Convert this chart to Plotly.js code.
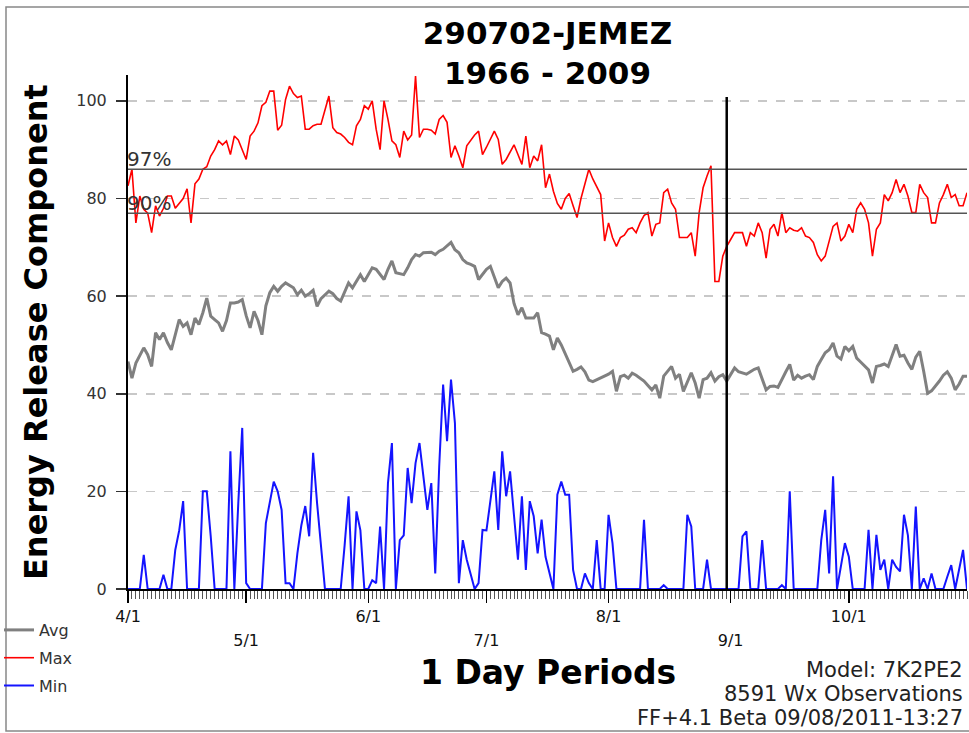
<!DOCTYPE html>
<html><head><meta charset="utf-8">
<script src="https://cdn.plot.ly/plotly-3.0.1.min.js"></script>
<style>html,body{margin:0;padding:0;background:#fff}</style>
</head><body><div id="chart" style="width:969px;height:733px"></div>
<script>
// Day offsets from 4/1 (x positions)
const days = Array.from({length: 214}, (_, i) => i);

const maxErc = [
82.6, 86, 75, 80.5, 77.8, 77, 73, 78.5, 76.4, 78,
80.5, 80.5, 78, 79, 80, 82, 75, 83, 84, 86,
86.5, 88.7, 90, 91.8, 91, 91.8, 89, 92.8, 92, 90,
88, 92.8, 93.8, 95.5, 99, 99.7, 102, 102, 94, 95,
100.3, 103, 101.5, 100.7, 101, 94.2, 94.2, 94.9, 95.2, 95.2,
98, 101, 94.5, 93.5, 93.2, 92.5, 91.5, 91, 94.9, 96.2,
99, 98.3, 100, 94.2, 90, 100, 96.2, 91.8, 91, 88.4,
93.8, 92, 93, 105.1, 92.5, 94.2, 94.2, 94, 93.2, 96.2,
97, 95.6, 88.4, 90.8, 88.7, 86.3, 90.8, 92, 93, 93.8,
89, 90.5, 92, 93.8, 92.1, 87, 88, 89.5, 91, 89,
87, 92.8, 86.3, 88.7, 87.7, 91, 82.2, 85, 81.5, 79,
77.8, 80, 81, 78.5, 76.1, 80, 83, 86, 84, 82.5,
80.8, 71.3, 75, 72, 70.2, 72, 72.5, 73.7, 74, 73,
75, 76.5, 77.1, 72.3, 74.7, 75, 81.2, 81.9, 79.1, 77.8,
72, 72, 72, 73, 68.2, 77.1, 82.2, 84.6, 86.7, 63,
63, 68.2, 70.2, 71.6, 73, 73, 73, 70.2, 73, 72.3,
75, 73, 67.8, 73.7, 74.7, 72.3, 77.1, 73, 74, 73.5,
73.3, 74, 72.3, 72, 71, 68.5, 67.2, 68.2, 71, 74.3,
75, 71.3, 72.3, 74.7, 73, 77.8, 79.1, 77.8, 75, 68.2,
73.7, 75, 80.8, 79.5, 81.2, 83.9, 81.2, 82.9, 80.5, 77.1,
77.1, 82.9, 81.2, 80.2, 75, 75, 79.1, 80.8, 82.9, 80.2,
80.8, 78.5, 78.5, 81.2
];

const avgErc = [
46.6, 43.2, 46.3, 47.7, 49.4, 48, 45.6, 52.5, 51.1, 52.5,
50.5, 49, 52, 55.2, 53.8, 54.5, 52.1, 55.5, 54.2, 56.6,
59.6, 55.9, 55.2, 54.5, 52.8, 55, 58.6, 58.6, 58.8, 59.3,
56, 53.5, 56.9, 55, 52.1, 58, 60.7, 62, 61, 62,
62.7, 62.2, 61.7, 60.3, 61.2, 60, 60.5, 61.2, 57.9, 59.5,
60.3, 61, 60.5, 59.5, 59, 61, 62.7, 61.7, 63, 64.4,
63, 64.5, 65.8, 65.5, 64.5, 63.4, 65.5, 67.2, 64.8, 64.6,
64.4, 65.8, 67.5, 68.5, 68.2, 68.9, 69, 69, 68.5, 69.2,
69.6, 70.3, 71, 69.5, 68.9, 67.5, 66.8, 66.5, 66.1, 63.4,
64.5, 65.5, 66.1, 63.8, 61.7, 63, 63.7, 62.7, 58.5, 56.2,
57.6, 55.5, 55.5, 55.5, 56.6, 52.5, 52.2, 51.8, 49, 51.4,
50, 48.3, 46.5, 44.6, 45, 45.5, 44.5, 42.8, 42.5, 42.9,
43.2, 43.6, 44, 44.6, 40.5, 43.5, 43.8, 43.2, 44.2, 43.8,
43.2, 42.6, 41.7, 40.8, 41.8, 39.1, 43.6, 44.5, 45.6, 43.2,
44, 40.5, 42.5, 44.3, 42.2, 39.1, 42.9, 43.2, 44.3, 42.6,
43.5, 43.9, 42.6, 44, 45.3, 44.5, 44.2, 44, 44.5, 45,
45.3, 43, 40.8, 41.5, 41.6, 41.3, 43, 44.5, 46, 42.8,
43.8, 43.2, 43.6, 43.9, 42.9, 45.6, 47, 48.4, 49, 50.4,
47.7, 47.1, 49.7, 48.8, 49.7, 47.3, 46.5, 45.8, 44.9, 42.2,
45.6, 45.8, 46.1, 45.6, 47.7, 50.1, 47.7, 47.9, 46.3, 45,
47.5, 48.7, 44.6, 40.1, 40.6, 41.5, 42.6, 43.8, 44.5, 43.2,
40.8, 42, 43.6, 43.6
];

const minErc = [
0, 0, 0, 0, 7, 0, 0, 0, 0, 2.9,
0, 0, 8, 12, 18, 0, 0, 0, 0, 20,
20, 10.8, 0, 0, 0, 0, 28.2, 0, 17.6, 33,
1.2, 0, 0, 0, 0, 13.5, 18, 22, 20, 16.2,
1.2, 1.2, 0, 7.3, 13, 17, 10.8, 27.9, 17.6, 8,
0, 0, 0, 0, 0, 9, 19, 0, 15.9, 12,
0, 0, 1.8, 1.2, 12.8, 0, 21.7, 29.9, 0, 10,
11, 24.8, 17.6, 25.8, 29.9, 23, 16.2, 21.7, 3.2, 25,
41.9, 30.3, 42.9, 34, 1.2, 10, 6, 3, 0, 1.2,
12.1, 12, 18, 24.1, 12.1, 28.2, 19, 24.1, 15, 6,
19, 3.9, 18, 14.9, 7.3, 14.2, 6.6, 3, 0, 19.3,
22, 19.3, 19.3, 3.9, 0, 0, 3.2, 1.2, 0, 10,
0, 0, 15.2, 9.4, 0, 0, 0, 0, 0, 0,
0, 14.2, 0, 0, 0, 0, 0.8, 0, 0, 0,
0, 0, 15.2, 12.8, 0, 0, 0, 6, 0, 0,
0, 0, 0, 0, 0, 0, 10.8, 11.8, 0, 0,
0, 10, 0, 0, 0, 0, 0.8, 0, 20, 0,
0, 0, 0, 0, 0, 0, 10, 16.2, 3.2, 23.1,
0, 5, 9.4, 6.6, 0, 0, 0, 0, 12.1, 0,
11.1, 3.9, 6, 0, 6, 4.5, 3.6, 15.2, 11, 0,
16.9, 0, 2.2, 0, 3.2, 0, 0, 0, 2.5, 4.9,
0, 4, 8, 0
];

const monthTickDays = [0, 30, 61, 91, 122, 153, 183];
const monthLabelsRow1 = ['4/1', '', '6/1', '', '8/1', '', '10/1'];
const monthTickDaysRow2 = [30, 91, 153];
const monthLabelsRow2 = ['5/1', '7/1', '9/1'];
const yTickVals = [0, 20, 40, 60, 80, 100];
const pct97 = 86;
const pct90 = 77;
const markerDay = 152;

const FONT = 'DejaVu Sans, Verdana, sans-serif';
const L = 128, W = 839, B = 589, H = 514;   // plot box in pixels

const traces = [
  {x: days, y: avgErc, name: 'Avg', mode: 'lines', legendgroup: 'a',
   line: {color: '#808080', width: 3}},
  {x: days, y: maxErc, name: 'Max', mode: 'lines', legendgroup: 'b',
   line: {color: '#ff0000', width: 1.6}},
  {x: days, y: minErc, name: 'Min', mode: 'lines', legendgroup: 'c',
   line: {color: '#1414ff', width: 2}},
  {x: [0], y: [null], xaxis: 'x2', showlegend: false, hoverinfo: 'skip', mode: 'lines'}
];

const layout = {
  width: 969, height: 733,
  margin: {l: L, r: 969 - L - W, t: 75, b: 733 - B, autoexpand: false},
  paper_bgcolor: '#fff', plot_bgcolor: '#fff',
  font: {family: FONT, color: '#222'},
  showlegend: true,
  title: {text: '290702-JEMEZ<br>1966 - 2009', x: 0.5, xref: 'paper', xanchor: 'center',
          y: 1 - 44/733, yref: 'container', yanchor: 'middle',
          font: {family: FONT, size: 31, weight: 'bold', color: '#000'}},
  xaxis: {range: [0, 213], tickmode: 'array', tickvals: monthTickDays, ticktext: monthLabelsRow1,
          ticks: 'outside', ticklen: 12, tickwidth: 1.5, tickcolor: '#000',
          showline: true, linecolor: '#000', linewidth: 2, showgrid: false, zeroline: false,
          layer: 'below traces', automargin: false,
          tickfont: {family: FONT, size: 16, color: '#111'},
          minor: {dtick: 1, tick0: 0, ticks: 'outside', ticklen: 8, tickcolor: '#555', tickwidth: 1, showgrid: false}},
  xaxis2: {range: [0, 213], overlaying: 'x', anchor: 'y', side: 'bottom',
           tickmode: 'array', tickvals: monthTickDaysRow2, ticktext: monthLabelsRow2,
           ticks: '', showline: false, showgrid: false, zeroline: false, automargin: false,
           ticklabelstandoff: 40, tickfont: {family: FONT, size: 16, color: '#111'}},
  yaxis: {range: [0, 105.3], tickmode: 'array', tickvals: yTickVals,
          ticks: 'outside', ticklen: 10, tickwidth: 1.5, tickcolor: '#333',
          showline: true, linecolor: '#000', linewidth: 2, zeroline: false,
          showgrid: true, gridcolor: '#c8c8c8', gridwidth: 1.5, griddash: 'dash',
          layer: 'below traces', automargin: false, ticklabelstandoff: 6,
          tickfont: {family: FONT, size: 16, color: '#333'}},
  legend: {x: (-1 - L)/W, xanchor: 'left', y: (B - 613)/H, yanchor: 'top',
           font: {family: FONT, size: 16, color: '#333'}, tracegroupgap: 4,
           traceorder: 'grouped', bgcolor: 'rgba(0,0,0,0)', itemwidth: 30},
  shapes: [
    {type: 'rect', xref: 'paper', yref: 'paper', x0: (6 - L)/W, x1: (980 - L)/W,
     y0: (B - 731)/H, y1: (B - 7)/H, line: {color: '#888', width: 1.5}, layer: 'below'},
    {type: 'line', xref: 'paper', yref: 'y', x0: 0, x1: 1, y0: pct97, y1: pct97,
     line: {color: '#555', width: 1.5}},
    {type: 'line', xref: 'paper', yref: 'y', x0: 0, x1: 1, y0: pct90, y1: pct90,
     line: {color: '#555', width: 1.5}},
    {type: 'line', xref: 'x', yref: 'y', x0: markerDay, x1: markerDay, y0: 0, y1: 100.8,
     line: {color: '#000', width: 2.5}}
  ],
  annotations: [
    {text: 'Energy Release Component', xref: 'paper', yref: 'paper', x: (36 - L)/W, y: 0.5,
     xanchor: 'center', yanchor: 'middle', textangle: -90, showarrow: false,
     font: {family: FONT, size: 32, weight: 'bold', color: '#000'}},
    {text: '1 Day Periods', xref: 'paper', yref: 'paper', x: 0.5, y: (B - 672)/H,
     xanchor: 'center', yanchor: 'middle', showarrow: false,
     font: {family: FONT, size: 33, weight: 'bold', color: '#000'}},
    {text: 'Model: 7K2PE2', xref: 'paper', yref: 'paper', x: (965 - L)/W, y: (B - 670)/H,
     xanchor: 'right', yanchor: 'middle', showarrow: false,
     font: {family: FONT, size: 21, color: '#222'}},
    {text: '8591 Wx Observations', xref: 'paper', yref: 'paper', x: (965 - L)/W, y: (B - 694)/H,
     xanchor: 'right', yanchor: 'middle', showarrow: false,
     font: {family: FONT, size: 21, color: '#222'}},
    {text: 'FF+4.1 Beta 09/08/2011-13:27', xref: 'paper', yref: 'paper', x: (965 - L)/W, y: (B - 718)/H,
     xanchor: 'right', yanchor: 'middle', showarrow: false,
     font: {family: FONT, size: 21, color: '#222'}},
    {text: '97%', xref: 'paper', yref: 'y', x: 0, y: pct97, xanchor: 'left', yanchor: 'bottom',
     xshift: -3, yshift: -4, showarrow: false, font: {family: FONT, size: 20, color: '#333'}},
    {text: '90%', xref: 'paper', yref: 'y', x: 0, y: pct90, xanchor: 'left', yanchor: 'bottom',
     xshift: -3, yshift: -4, showarrow: false, font: {family: FONT, size: 20, color: '#333'}}
  ]
};

Plotly.newPlot('chart', traces, layout, {displayModeBar: false, staticPlot: true});
</script>
</body></html>
